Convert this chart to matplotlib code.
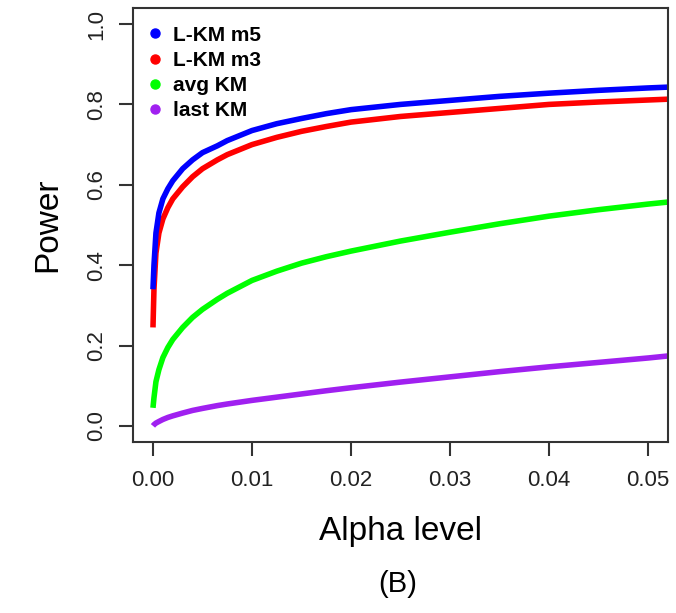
import matplotlib
matplotlib.use('Agg')
import matplotlib.pyplot as plt
from matplotlib.lines import Line2D

plt.rcParams['font.family'] = ['Liberation Sans', 'DejaVu Sans']

# alpha levels and power curves
alpha = [0, 0.0001, 0.0003, 0.0006, 0.001, 0.0015, 0.002, 0.003, 0.004, 0.005,
         0.0065, 0.0075, 0.01, 0.0125, 0.015, 0.0175, 0.02, 0.025, 0.03,
         0.035, 0.04, 0.045, 0.05, 0.052]
lkm_m5 = [0.34, 0.40, 0.48, 0.53, 0.565, 0.59, 0.61, 0.64, 0.662, 0.68,
          0.697, 0.71, 0.735, 0.752, 0.765, 0.777, 0.787, 0.80, 0.81,
          0.82, 0.828, 0.835, 0.841, 0.843]
lkm_m3 = [0.245, 0.34, 0.43, 0.48, 0.515, 0.543, 0.565, 0.595, 0.62, 0.64,
          0.662, 0.675, 0.70, 0.718, 0.733, 0.745, 0.756, 0.77, 0.78,
          0.79, 0.80, 0.806, 0.811, 0.813]
avg_km = [0.045, 0.07, 0.11, 0.14, 0.17, 0.195, 0.215, 0.245, 0.27, 0.29,
          0.315, 0.33, 0.362, 0.385, 0.405, 0.421, 0.435, 0.46, 0.482,
          0.503, 0.522, 0.538, 0.552, 0.557]
last_km = [0.0, 0.003, 0.007, 0.011, 0.016, 0.021, 0.025, 0.032, 0.0385, 0.0435,
           0.0505, 0.0545, 0.0635, 0.0715, 0.0795, 0.0875, 0.095, 0.109, 0.122,
           0.135, 0.147, 0.158, 0.169, 0.174]

series = [('L-KM m5', lkm_m5, '#0000ff'),
          ('L-KM m3', lkm_m3, '#ff0000'),
          ('avg KM', avg_km, '#00ff00'),
          ('last KM', last_km, '#a020f0')]

xticks = [0.00, 0.01, 0.02, 0.03, 0.04, 0.05]
yticks = [0.0, 0.2, 0.4, 0.6, 0.8, 1.0]

fig = plt.figure(figsize=(6.76, 6.13), dpi=100)
ax = fig.add_axes([0.197, 0.279, 0.791, 0.708])

# draw last series first so blue ends on top like the original
for name, vals, col in series[::-1]:
    ax.plot(alpha, vals, color=col, lw=4, solid_capstyle='butt')

ax.set_xlim(-0.002, 0.052)
ax.set_ylim(-0.04, 1.04)
ax.set_xticks(xticks)
ax.set_xticklabels(['%.2f' % t for t in xticks], fontsize=16, color='#222222')
ax.set_yticks(yticks)
ax.set_yticklabels(['%.1f' % t for t in yticks], fontsize=16, color='#222222',
                   rotation=90, va='center')
ax.tick_params(direction='out', length=10, width=1.5, color='#333333')
ax.tick_params(axis='x', pad=10)
ax.tick_params(axis='y', pad=9)
for sp in ax.spines.values():
    sp.set_linewidth(1.5)
    sp.set_color('#333333')

ax.set_xlabel('Alpha level', fontsize=24, labelpad=18)
ax.set_ylabel('Power', fontsize=24, labelpad=16)
fig.text(0.589, 0.048, '(B)', fontsize=21, ha='center', va='center')

handles = [Line2D([], [], ls='none', marker='o', ms=6.5, color=c) for _, _, c in series]
ax.legend(handles, [s[0] for s in series], loc='upper left', frameon=False,
          prop={'size': 15, 'weight': 'bold'}, handletextpad=0.65,
          labelspacing=0.3, borderaxespad=0.45, borderpad=0.4, handlelength=0.4)

fig.savefig('out.png', dpi=100)
